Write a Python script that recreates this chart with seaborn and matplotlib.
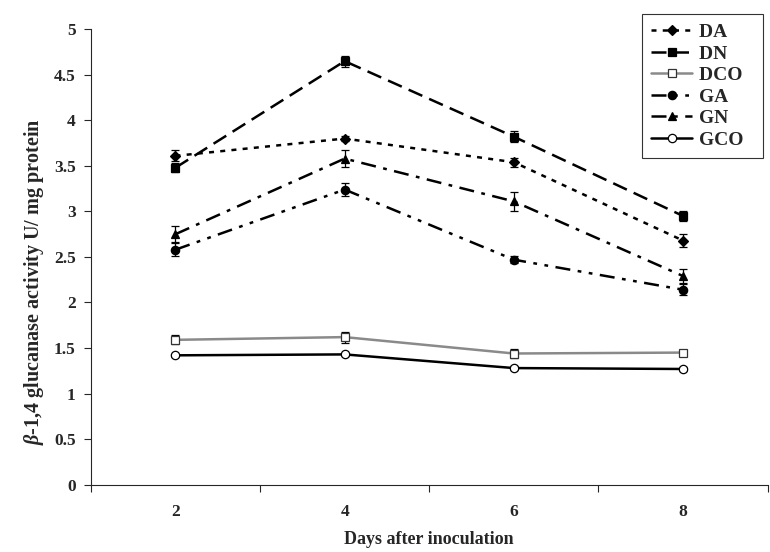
import numpy as np
import pandas as pd
import matplotlib
matplotlib.use("Agg")
import matplotlib.pyplot as plt
import seaborn as sns

# data
days = [2, 4, 6, 8]
DA = [3.61, 3.80, 3.54, 2.68]
DN = [3.48, 4.65, 3.82, 2.95]
DCO = [1.59, 1.62, 1.44, 1.45]
GA = [2.58, 3.24, 2.47, 2.14]
GN = [2.75, 3.58, 3.11, 2.29]
GCO = [1.42, 1.43, 1.28, 1.27]

DA_err = [0.06, 0.03, 0.05, 0.07]
DN_err = [0.05, 0.06, 0.06, 0.05]
DCO_err = [0.05, 0.06, 0.05, 0.02]
GA_err = [0.07, 0.07, 0.04, 0.06]
GN_err = [0.09, 0.09, 0.10, 0.08]
GCO_err = [0.02, 0.02, 0.02, 0.02]

series = {"DA": (DA, DA_err), "DN": (DN, DN_err), "DCO": (DCO, DCO_err),
          "GA": (GA, GA_err), "GN": (GN, GN_err), "GCO": (GCO, GCO_err)}

styles = {
    "DA": dict(color="black", ls=(0, (2.0, 2.5)), marker="D", mfc="black", ms=5),
    "DN": dict(color="black", ls=(0, (6, 3)), marker="s", mfc="black", ms=6),
    "DCO": dict(color="#8a8a8a", ls="-", marker="s", mfc="white", ms=6),
    "GA": dict(color="black", ls=(0, (6, 3, 1.5, 3, 1.5, 3)), marker="o", mfc="black", ms=6),
    "GN": dict(color="black", ls=(0, (6, 3, 1.5, 3)), marker="^", mfc="black", ms=6),
    "GCO": dict(color="black", ls="-", marker="o", mfc="white", ms=6),
}

rows = []
for name, (vals, errs) in series.items():
    for i, (d, v, e) in enumerate(zip(days, vals, errs)):
        rows.append({"series": name, "pos": i + 1, "day": d, "value": v, "err": e})
df = pd.DataFrame(rows)

sns.set_style("ticks")
plt.rcParams['font.family'] = ['Liberation Serif', 'DejaVu Serif']
plt.rcParams['mathtext.fontset'] = 'custom'
plt.rcParams['mathtext.it'] = 'Liberation Serif:italic:bold'
plt.rcParams['mathtext.rm'] = 'Liberation Serif:bold'

fig = plt.figure(figsize=(7.7, 5.52), dpi=100)
ax = fig.add_axes([0.118, 0.122, 0.879, 0.825])

for name in series:
    sub = df[df["series"] == name]
    st = styles[name]
    ax.errorbar(sub["pos"], sub["value"], yerr=sub["err"], fmt="none",
                ecolor="black", elinewidth=0.9, capsize=3, capthick=0.9, zorder=2)
    sns.lineplot(data=sub, x="pos", y="value", ax=ax, color=st["color"],
                 linestyle=st["ls"], linewidth=1.8, marker=st["marker"],
                 markersize=st["ms"], markerfacecolor=st["mfc"],
                 markeredgecolor="black" if name != "DCO" else "#333333",
                 markeredgewidth=0.9, label=name + "  ", zorder=3, errorbar=None)

ax.set_xlim(0.5, 4.5)
ax.set_ylim(0, 5)
ax.set_yticks(np.arange(0, 5.01, 0.5))
ax.set_yticklabels([f"{t:g}" for t in np.arange(0, 5.01, 0.5)])
ax.set_xticks([0.5, 1.5, 2.5, 3.5, 4.5])
ax.set_xticklabels([])
ax.set_xticks([1, 2, 3, 4], minor=True)
ax.set_xticklabels([str(d) for d in days], minor=True)
ax.tick_params(axis="x", which="minor", length=0, pad=14)
ax.tick_params(axis="x", which="major", length=5, width=0.8, direction="out")
ax.tick_params(axis="y", length=5, width=0.8, direction="out", pad=6)
for lab in ax.get_xticklabels(minor=True) + ax.get_yticklabels():
    lab.set_fontsize(12.5)
    lab.set_fontweight("bold")

for s in ["top", "right"]:
    ax.spines[s].set_visible(False)
for s in ["left", "bottom"]:
    ax.spines[s].set_linewidth(0.8)

ax.set_xlabel("Days after inoculation", fontsize=13, fontweight="bold", labelpad=8)
ax.set_ylabel(r"$\beta$-1,4 glucanase activity U/ mg protein", fontsize=14.5,
              fontweight="bold")
ax.yaxis.set_label_coords(-0.066, 0.445)

leg = ax.legend(loc="upper right", bbox_to_anchor=(0.991, 0.975),
                bbox_transform=fig.transFigure, frameon=True,
                fancybox=False, edgecolor="black", handlelength=2.1,
                prop={"family": "Liberation Serif", "weight": "bold", "size": 14},
                labelspacing=0.2, borderpad=0.5, handletextpad=0.35,
                borderaxespad=0)
leg.get_frame().set_linewidth(0.8)

fig.savefig("out.png", dpi=100)
